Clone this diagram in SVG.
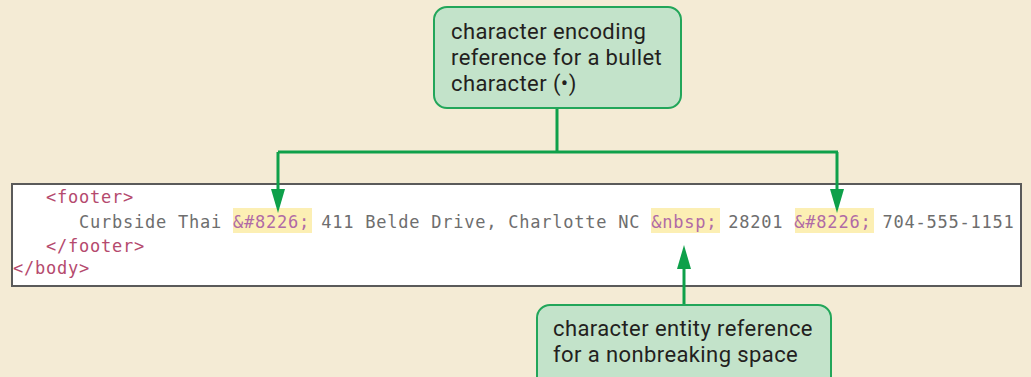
<svg xmlns="http://www.w3.org/2000/svg" width="1031" height="377" viewBox="0 0 1031 377">
  <defs>
    <marker id="arrow" viewBox="0 0 24 14" refX="11" refY="7" markerWidth="24" markerHeight="14" markerUnits="userSpaceOnUse" orient="auto">
      <path d="M0,0 L24,7 L0,14 Z" fill="#0ea04a"/>
    </marker>
    <style>
      .callout { fill: #c3e3ca; stroke: #22a65a; stroke-width: 2; }
      .label { font-family: "Roboto", "Liberation Sans", sans-serif; font-size: 22px; letter-spacing: 0.4px; fill: #231f20; }
      .code { font-family: "DejaVu Sans Mono", "Liberation Mono", monospace; font-size: 17px; letter-spacing: 0.77px; }
      .tag { fill: #b54a6e; }
      .txt { fill: #6e6e6e; }
      .ent { fill: #b06aa6; }
      .hl { fill: #fcefb4; }
      .wire { fill: none; stroke: #0ea04a; stroke-width: 3; }
    </style>
  </defs>

  <rect width="1031" height="377" fill="#f4ebd5"/>

  <!-- code listing panel -->
  <g id="code-panel">
    <rect x="12" y="184" width="1009" height="102" fill="#ffffff" stroke="#5a5a5a" stroke-width="2"/>
    <rect class="hl" x="233" y="208" width="79" height="25"/>
    <rect class="hl" x="651" y="208" width="69" height="25"/>
    <rect class="hl" x="795" y="208" width="79" height="25"/>
    <text class="code tag" x="46" y="203">&lt;footer&gt;</text>
    <text class="code txt" x="79" y="228">Curbside Thai <tspan class="ent">&amp;#8226;</tspan> 411 Belde Drive, Charlotte NC <tspan class="ent">&amp;nbsp;</tspan> 28201 <tspan class="ent">&amp;#8226;</tspan> 704-555-1151</text>
    <text class="code tag" x="46" y="252">&lt;/footer&gt;</text>
    <text class="code tag" x="13" y="274">&lt;/body&gt;</text>
  </g>

  <!-- connectors -->
  <g id="connectors">
    <path class="wire" d="M557,108 V152 M278,152 H838 M278,152 V200" marker-end="url(#arrow)"/>
    <path class="wire" d="M837,152 V200" marker-end="url(#arrow)"/>
    <path class="wire" d="M684,305 V258" marker-end="url(#arrow)"/>
  </g>

  <!-- callout: bullet encoding -->
  <g id="callout-bullet">
    <rect class="callout" x="434" y="7" width="247" height="101" rx="13"/>
    <text class="label" x="451" y="39">character encoding</text>
    <text class="label" x="451" y="65">reference for a bullet</text>
    <text class="label" x="451" y="91">character (•)</text>
  </g>

  <!-- callout: nbsp entity -->
  <g id="callout-nbsp">
    <rect class="callout" x="537" y="305" width="294" height="90" rx="13"/>
    <text class="label" x="553" y="336">character entity reference</text>
    <text class="label" x="553" y="362">for a nonbreaking space</text>
  </g>
</svg>
